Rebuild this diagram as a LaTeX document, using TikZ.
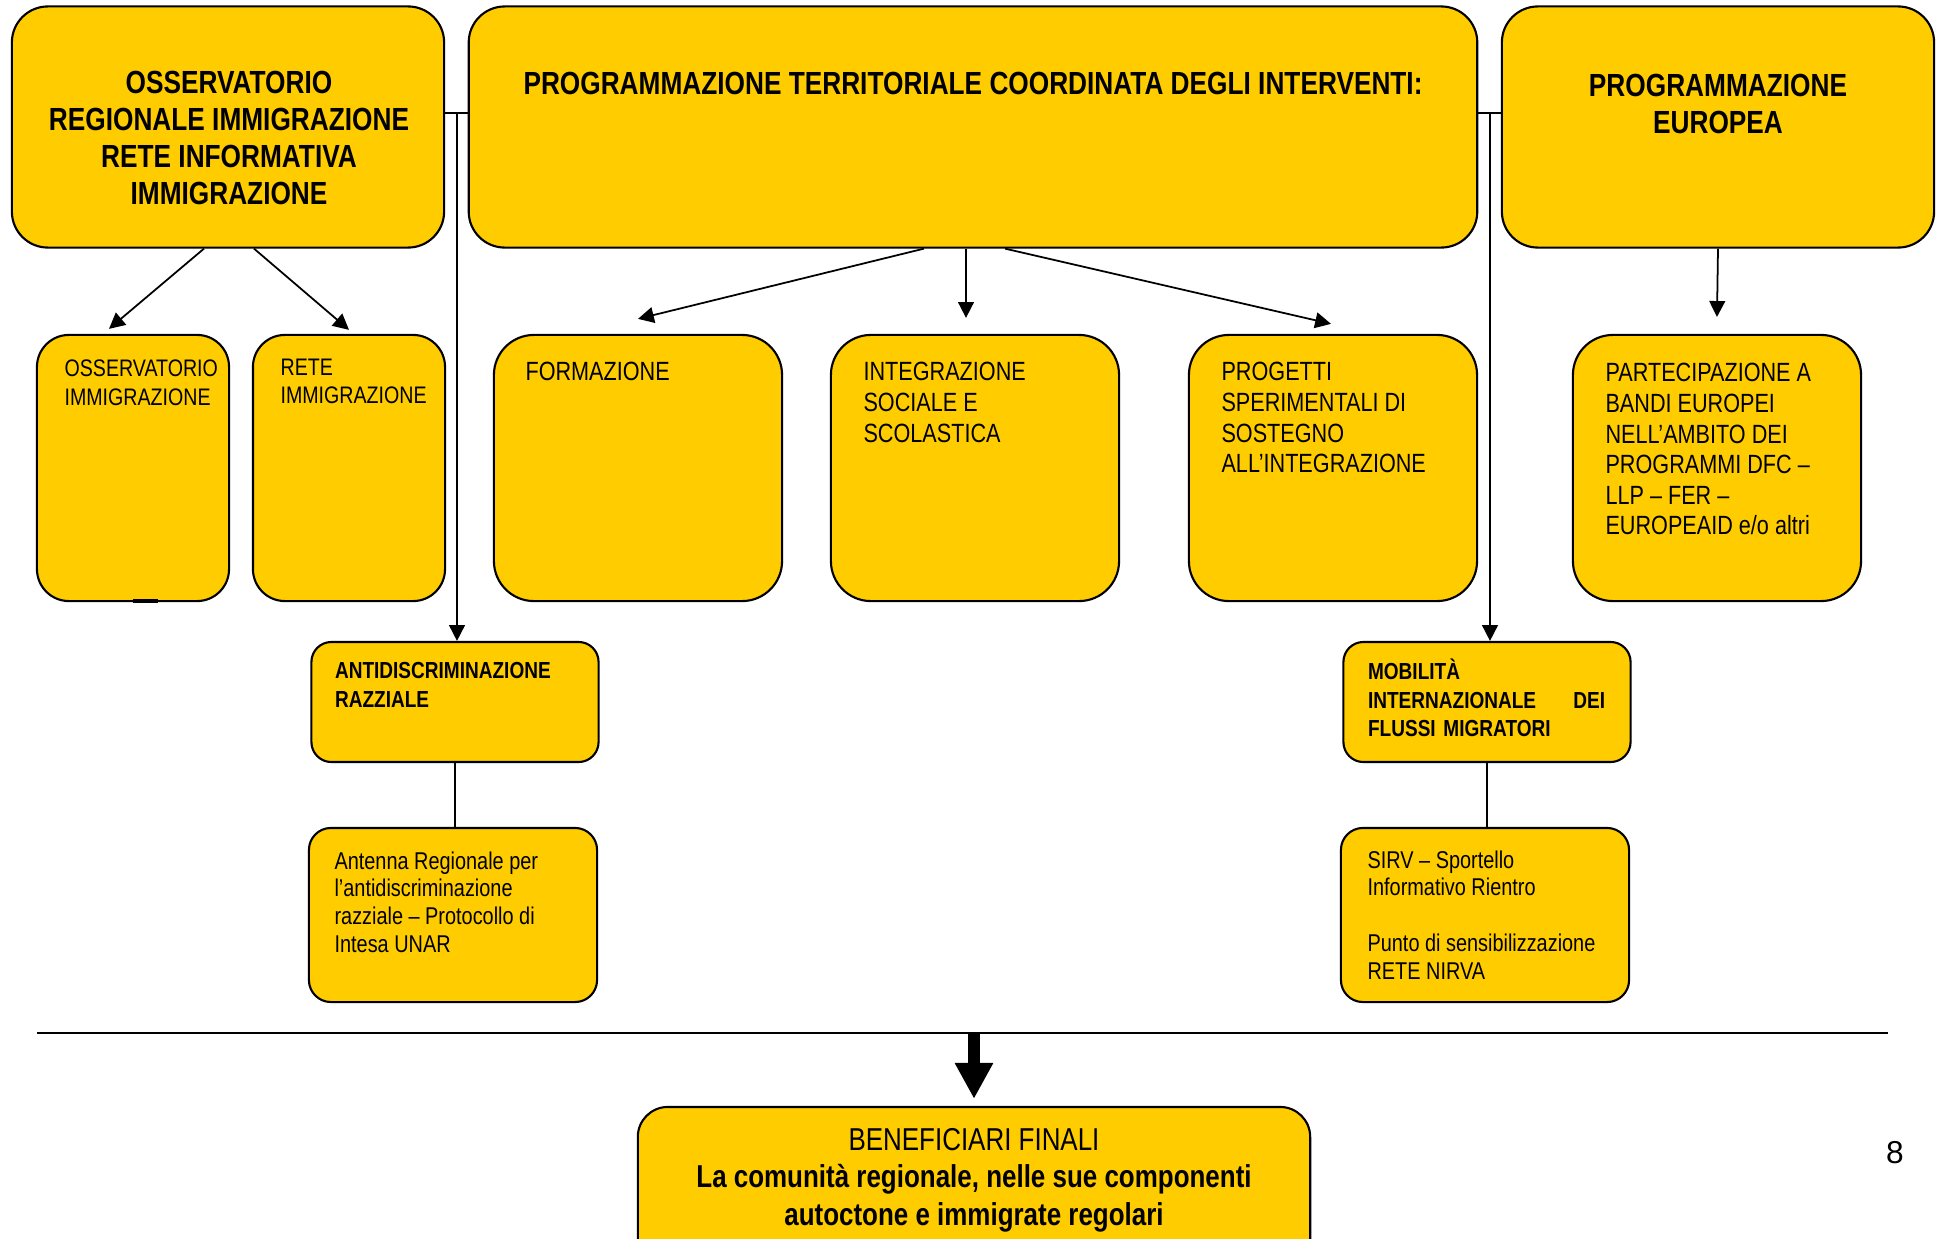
\documentclass[tikz,border=0pt]{standalone}
\usepackage{fontspec}
\setmainfont[FakeStretch=0.82]{Liberation Sans}
\newfontfamily\pagenumfont{Liberation Sans}
\usetikzlibrary{arrows.meta,calc}
\definecolor{boxyellow}{RGB}{255,204,0}

\tikzset{
  box/.style={draw, line width=0.6pt, fill=boxyellow, inner sep=0pt},
  topbox/.style={box, rounded corners=0.36cm, minimum height=2.41cm},
  midbox/.style={box, rounded corners=0.4cm, minimum width=2.88cm, minimum height=2.66cm},
  subbox/.style={box, rounded corners=0.2cm, minimum width=2.87cm, minimum height=1.2cm},
  notebox/.style={box, rounded corners=0.22cm, minimum width=2.88cm, minimum height=1.74cm},
  headtxt/.style={inner sep=0pt, align=center, font=\fontsize{9.1}{10.6}\selectfont\bfseries},
  bodytxt/.style={inner sep=0pt, anchor=north west, align=left, font=\fontsize{7.5}{8.7}\selectfont},
  smalltxt/.style={inner sep=0pt, anchor=north west, align=left, font=\fontsize{6.8}{8.2}\selectfont},
  subtxt/.style={inner sep=0pt, anchor=north west, align=left, font=\fontsize{6.6}{8.2}\selectfont\bfseries},
  notetxt/.style={inner sep=0pt, anchor=north west, align=left, font=\fontsize{6.9}{7.9}\selectfont},
  conn/.style={line width=0.5pt},
}

\begin{document}
\begin{tikzpicture}[x=0.01cm,y=-0.01cm,>={Triangle[length=4.5pt,width=4.5pt]}]
\useasboundingbox (0,0) rectangle (1941,1239);

% upper boxes
\node[topbox, minimum width=4.32cm] (osserv) at (228,127) {};
\node[topbox, minimum width=10.08cm] (progter) at (973,127) {};
\node[topbox, minimum width=4.32cm] (progeur) at (1718,127) {};
\node[headtxt] (osserv-txt) at (229,138) {OSSERVATORIO\\ REGIONALE IMMIGRAZIONE\\ RETE INFORMATIVA\\ IMMIGRAZIONE};
\node[headtxt] (progter-txt) at (973,83) {PROGRAMMAZIONE TERRITORIALE COORDINATA DEGLI INTERVENTI:};
\node[headtxt] (progeur-txt) at (1718,104) {PROGRAMMAZIONE\\ EUROPEA};

% second row
\node[midbox, rounded corners=0.32cm, minimum width=1.92cm] (ossimm) at (133,468) {};
\node[midbox, rounded corners=0.32cm, minimum width=1.92cm] (reteimm) at (349,468) {};
\node[midbox] (formaz) at (638,468) {};
\node[midbox] (integr) at (975,468) {};
\node[midbox] (progetti) at (1333,468) {};
\node[midbox] (partec) at (1717,468) {};
\draw[line width=1pt] ($(ossimm.south)+(0,-1)$) -- ($(ossimm.south)+(25,-1)$);

\node[smalltxt] (ossimm-txt) at ($(ossimm.north west)+(28,25)$) {OSSERVATORIO\\ IMMIGRAZIONE};
\node[smalltxt] (reteimm-txt) at ($(reteimm.north west)+(28,24)$) {RETE\\ IMMIGRAZIONE};
\node[bodytxt] (formaz-txt) at ($(formaz.north west)+(32,28)$) {FORMAZIONE};
\node[bodytxt] (integr-txt) at ($(integr.north west)+(33,28)$) {INTEGRAZIONE\\ SOCIALE E\\ SCOLASTICA};
\node[bodytxt] (progetti-txt) at ($(progetti.north west)+(33,28)$) {PROGETTI\\ SPERIMENTALI DI\\ SOSTEGNO\\ ALL’INTEGRAZIONE};
\node[bodytxt] (partec-txt) at ($(partec.north west)+(33,29)$) {PARTECIPAZIONE A\\ BANDI EUROPEI\\ NELL’AMBITO DEI\\ PROGRAMMI DFC –\\ LLP – FER –\\ EUROPEAID e/o altri};

% third and fourth rows
\node[subbox] (anti) at (455,702) {};
\node[subbox] (mobil) at (1487,702) {};
\node[notebox] (antenna) at (453,915) {};
\node[notebox] (sirv) at (1485,915) {};
\node[subtxt] (anti-txt) at ($(anti.north west)+(24,21)$) {ANTIDISCRIMINAZIONE\\ RAZZIALE};
\node[subtxt, text width=2.37cm] (mobil-txt) at ($(mobil.north west)+(25,17)$) {MOBILITÀ\\ INTERNAZIONALE\hfill DEI\\ FLUSSI MIGRATORI};
\node[notetxt] (antenna-txt) at ($(antenna.north west)+(26,24)$) {Antenna Regionale per\\ l’antidiscriminazione\\ razziale – Protocollo di\\ Intesa UNAR};
\node[notetxt] (sirv-txt) at ($(sirv.north west)+(27,23)$) {SIRV – Sportello\\ Informativo Rientro\\[7.9pt] Punto di sensibilizzazione\\ RETE NIRVA};

% arrows from the upper boxes
\draw[conn,->] ($(osserv.south)+(-24,0)$) -- ($(ossimm.north)+(-24,-5)$);
\draw[conn,->] ($(osserv.south)+(26,0)$) -- ($(reteimm.north)+(0,-4)$);
\draw[conn,->] ($(progter.south)+(-49,0)$) -- ($(formaz.north)+(0,-15)$);
\draw[conn,->] ($(progter.south)+(-7,0)$) -- ($(integr.north)+(-9,-16)$);
\draw[conn,->] ($(progter.south)+(32,0)$) -- ($(progetti.north)+(-2,-10)$);
\draw[conn,->] (progeur.south) -- ($(partec.north)+(0,-17)$);

% side links down to the lower boxes
\coordinate (jl) at (457,113);
\coordinate (jr) at (1490,113);
\draw[conn] (osserv.east |- jl) -- (progter.west |- jl);
\draw[conn] (progter.east |- jr) -- (progeur.west |- jr);
\draw[conn,->] (jl) -- (jl |- anti.north);
\draw[conn,->] (jr) -- (jr |- mobil.north);
\draw[conn] (anti.south) -- (anti.south |- antenna.north);
\draw[conn] (mobil.south) -- (mobil.south |- sirv.north);

% separator and final box
\coordinate (rl) at (37,1033);
\coordinate (rr) at (1888,1033);
\draw[line width=0.6pt] (rl) -- (rr);
\node[box, rounded corners=0.3cm, minimum width=6.72cm, minimum height=1.9cm] (benef) at (974,1202) {};
\draw[line width=3.5pt, -{Triangle[length=0.36cm,width=0.36cm]}, shorten >=0.07cm] (benef.north |- rl) -- (benef.north);
\node[anchor=north, inner sep=0pt, align=center, font=\fontsize{9}{10.6}\selectfont] (benef-txt) at ($(benef.north)+(0,22)$) {BENEFICIARI FINALI\\ \textbf{La comunità regionale, nelle sue componenti}\\ \textbf{autoctone e immigrate regolari}};

\node[font=\pagenumfont\fontsize{9}{10}\selectfont] (pagenum) at (1895,1153) {8};
\end{tikzpicture}
\end{document}
